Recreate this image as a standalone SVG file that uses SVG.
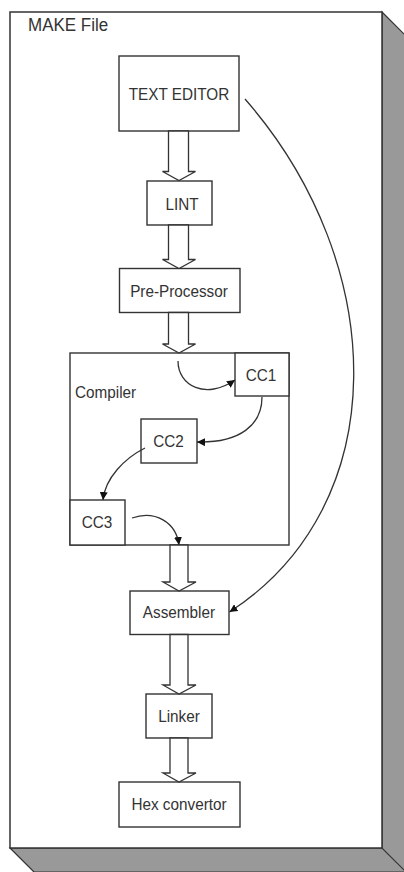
<svg xmlns="http://www.w3.org/2000/svg" width="404" height="872" viewBox="0 0 404 872">
<style>
.box{fill:#fff;stroke:#333;stroke-width:1.4}
.t{font-family:"Liberation Sans",Arial,sans-serif;font-size:15.3px;fill:#333;text-anchor:middle}
.lbl{font-family:"Liberation Sans",Arial,sans-serif;fill:#333}
.t,.lbl{transform-box:fill-box;transform-origin:center;transform:scaleY(1.12)}
.hollow{fill:#fff;stroke:#333;stroke-width:1.3}
.curve{fill:none;stroke:#333;stroke-width:1.3}
.side{fill:#999;stroke:#333;stroke-width:1.2}
</style>
<defs>
<marker id="ah" viewBox="0 0 10 10" refX="10" refY="5" markerWidth="8" markerHeight="8" markerUnits="userSpaceOnUse" orient="auto">
<path d="M0,0 L10,5 L0,10 z" fill="#111"/>
</marker>
</defs>
<g id="frame">
<polygon class="side" points="382,12 406,36 406,896 382,848"/>
<polygon class="side" points="10,848 382,848 406,872 34,872"/>
<rect x="10" y="12" width="372" height="836" fill="#fff" stroke="#333" stroke-width="1.5"/>
<text class="lbl" x="28" y="30.5" font-size="17">MAKE File</text>
</g>
<g id="compiler">
<rect class="box" x="70" y="353" width="219" height="192"/>
<text class="lbl" x="75" y="397" font-size="15.3">Compiler</text>
</g>
<g id="text-editor">
<rect class="box" x="119" y="56" width="120" height="75"/>
<text class="t" x="179" y="99">TEXT EDITOR</text>
</g>
<g id="lint">
<rect class="box" x="147" y="181" width="65" height="44"/>
<text class="t" x="182" y="209">LINT</text>
</g>
<g id="pre-processor">
<rect class="box" x="119.5" y="268.5" width="120.5" height="44"/>
<text class="t" x="179" y="296">Pre-Processor</text>
</g>
<g id="cc1">
<rect class="box" x="235" y="353" width="54" height="43"/>
<text class="t" x="261" y="380">CC1</text>
</g>
<g id="cc2">
<rect class="box" x="141" y="419" width="56" height="44"/>
<text class="t" x="168.5" y="446">CC2</text>
</g>
<g id="cc3">
<rect class="box" x="70" y="500" width="55" height="45"/>
<text class="t" x="97" y="527">CC3</text>
</g>
<g id="assembler">
<rect class="box" x="130" y="591" width="99" height="43.5"/>
<text class="t" x="179" y="617">Assembler</text>
</g>
<g id="linker">
<rect class="box" x="146" y="694" width="66" height="44"/>
<text class="t" x="179" y="721">Linker</text>
</g>
<g id="hex-convertor">
<rect class="box" x="119" y="782" width="121" height="45"/>
<text class="t" x="179" y="809">Hex convertor</text>
</g>
<g id="connectors">
<path class="hollow" d="M168.5,131 L168.5,171.5 L162.5,171.5 L179,180.5 L195.5,171.5 L188.5,171.5 L188.5,131 Z"/>
<path class="hollow" d="M168.5,225 L168.5,259.5 L162.5,259.5 L179,268.5 L195.5,259.5 L188.5,259.5 L188.5,225 Z"/>
<path class="hollow" d="M168.5,312.5 L168.5,344 L162.5,344 L179,353 L195.5,344 L188.5,344 L188.5,312.5 Z"/>
<path class="hollow" d="M170,545 L170,582 L163,582 L179,591 L196,582 L188,582 L188,545 Z"/>
<path class="hollow" d="M170,634.5 L170,685 L163,685 L179,694 L196,685 L188,685 L188,634.5 Z"/>
<path class="hollow" d="M170,738 L170,773 L163,773 L179,782 L196,773 L188,773 L188,738 Z"/>
<path class="curve" d="M245,99 C390,265 395,505 229.5,612" marker-end="url(#ah)"/>
<path class="curve" d="M178,361 C178,386 206,400 235,380" marker-end="url(#ah)"/>
<path class="curve" d="M262,397 C262,425 240,443 197,442" marker-end="url(#ah)"/>
<path class="curve" d="M145,448 C125,458 105,478 103,500" marker-end="url(#ah)"/>
<path class="curve" d="M132,518 C155,510 176,522 179,545" marker-end="url(#ah)"/>
</g>
</svg>
